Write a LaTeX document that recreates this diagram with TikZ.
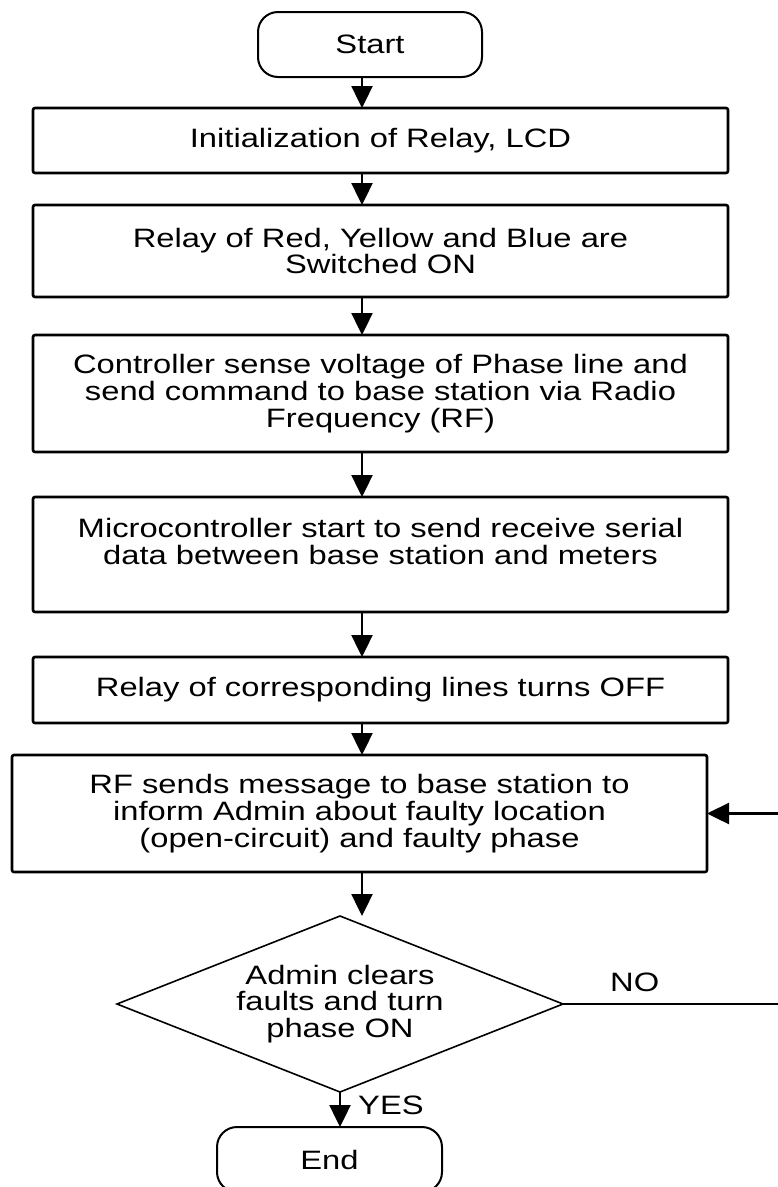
\documentclass[tikz,border=0pt]{standalone}
\usepackage{fontspec}
\setmainfont{Liberation Sans}[FakeStretch=1.23]
\usepackage{tikz}
\usetikzlibrary{arrows.meta,positioning,shapes.geometric}
\newcommand{\chartfont}{\fontsize{26.6}{26.7}\selectfont}
\tikzset{
  stepbox/.style={draw,line width=2.6pt,rounded corners=2pt,align=center,
                  minimum width=695pt,inner sep=0pt,outer sep=0pt,font=\chartfont},
  termbox/.style={draw,line width=2pt,rounded corners=20pt,minimum width=224pt,
                  minimum height=65pt,outer sep=0pt,font=\chartfont},
  decbox/.style={draw,diamond,aspect=2.53,line width=1.6pt,minimum width=446pt,
                 minimum height=176pt,inner sep=0pt,outer sep=0pt,align=center,
                 font=\chartfont},
  lbl/.style={inner sep=0pt,font=\chartfont},
  flow/.style={-{Triangle[length=22pt,width=21pt]},line width=2.4pt},
}

\begin{document}
\begin{tikzpicture}[x=1pt,y=-1pt]
\useasboundingbox (0,0) rectangle (778,1187);

\node[stepbox, minimum height=65pt] (init) at (380.5,140.5)
  {Initialization of Relay, LCD};
\node[termbox, above=31pt of init, xshift=-10.5pt] (start) {Start};

\node[stepbox, below=32pt of init, minimum height=92pt] (switch)
  {Relay of Red, Yellow and Blue are\\Switched ON};
\node[stepbox, below=38pt of switch, minimum height=117pt] (sense)
  {Controller sense voltage of Phase line and\\send command to base station via Radio\\Frequency (RF)};
\node[stepbox, below=45pt of sense, minimum height=115pt] (serial)
  {Microcontroller start to send receive serial\\data between base station and meters\\\mbox{}};
\node[stepbox, below=45pt of serial, minimum height=66pt] (relayoff)
  {Relay of corresponding lines turns OFF};
\node[stepbox, below=32pt of relayoff, xshift=-21pt, minimum height=117pt] (inform)
  {RF sends message to base station to\\inform Admin about faulty location\\(open-circuit) and faulty phase};

\node[decbox, below=44pt of inform, xshift=-19.5pt] (clear)
  {Admin clears\\faults and turn\\phase ON};
\node[termbox, below=35pt of clear, xshift=-10.5pt, minimum width=225pt] (end) {End};

% main line
\coordinate (spine) at (362,0);
\draw[flow] (start.south -| spine) -- (init.north -| spine);
\draw[flow] (init.south -| spine) -- (switch.north -| spine);
\draw[flow] (switch.south -| spine) -- (sense.north -| spine);
\draw[flow] (sense.south -| spine) -- (serial.north -| spine);
\draw[flow] (serial.south -| spine) -- (relayoff.north -| spine);
\draw[flow] (relayoff.south -| spine) -- (inform.north -| spine);
\draw[flow] (inform.south -| spine) -- (clear.north -| spine);
\draw[flow] (clear.south) -- (clear.south |- end.north);

% back to the message box
\coordinate (loop) at (780,0);
\draw[flow] (clear.east) -- (clear.east -| loop) |- (inform.east);

\node[lbl, above right=12pt and 47pt of clear.east] (no) {NO};
\node[lbl, below right=4pt and 18pt of clear.south] (yes) {YES};

\end{tikzpicture}
\end{document}
